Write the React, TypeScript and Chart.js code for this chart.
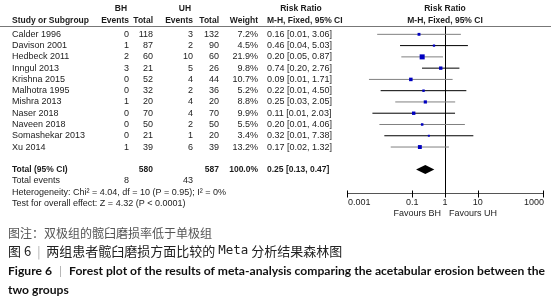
import React, { useEffect, useRef } from "react";
import { Chart, registerables } from "chart.js";

Chart.register(...registerables);

// ---------- data ----------
const studies = [
  "Calder 1996",
  "Davison 2001",
  "Hedbeck 2011",
  "Inngul 2013",
  "Krishna 2015",
  "Malhotra 1995",
  "Mishra 2013",
  "Naser 2018",
  "Naveen 2018",
  "Somashekar 2013",
  "Xu 2014",
];
const bhEvents = [0, 1, 2, 3, 0, 0, 1, 0, 0, 0, 1];
const bhTotal = [118, 87, 60, 21, 52, 32, 20, 70, 50, 21, 39];
const uhEvents = [3, 2, 10, 5, 4, 2, 4, 4, 2, 1, 6];
const uhTotal = [132, 90, 60, 26, 44, 36, 20, 70, 50, 20, 39];
const weights = [7.2, 4.5, 21.9, 9.8, 10.7, 5.2, 8.8, 9.9, 5.5, 3.4, 13.2];
const riskRatio = [0.16, 0.46, 0.2, 0.74, 0.09, 0.22, 0.25, 0.11, 0.2, 0.32, 0.17];
// lower CI bounds as drawn (unrounded estimates)
const ciLow = [0.0084, 0.042, 0.046, 0.198, 0.0047, 0.0107, 0.03, 0.006, 0.0098, 0.0139, 0.0218];
const ciHigh = [3.06, 5.03, 0.87, 2.76, 1.71, 4.5, 2.05, 2.03, 4.06, 7.38, 1.32];
const ciText = [
  "0.16 [0.01, 3.06]",
  "0.46 [0.04, 5.03]",
  "0.20 [0.05, 0.87]",
  "0.74 [0.20, 2.76]",
  "0.09 [0.01, 1.71]",
  "0.22 [0.01, 4.50]",
  "0.25 [0.03, 2.05]",
  "0.11 [0.01, 2.03]",
  "0.20 [0.01, 4.06]",
  "0.32 [0.01, 7.38]",
  "0.17 [0.02, 1.32]",
];
const totalRR = 0.25;
const totalLow = 0.13;
const totalHigh = 0.47;
const totalBH = 580;
const totalUH = 587;
const totalEventsBH = 8;
const totalEventsUH = 43;
const xTicks = [0.001, 0.1, 1, 10, 1000];
const xTickLabels = ["0.001", "0.1", "1", "10", "1000"];
const heterogeneityText = "Heterogeneity: Chi\u00b2 = 4.04, df = 10 (P = 0.95); I\u00b2 = 0%";
const overallText = "Test for overall effect: Z = 4.32 (P < 0.0001)";
const captionNote = "图注：双极组的髋臼磨损率低于单极组";
const captionCnA = "图 6";
const captionCnB = "两组患者髋臼磨损方面比较的 ";
const captionCnMeta = "Meta";
const captionCnC = " 分析结果森林图";
const captionEnA = "Figure 6";
const captionEnB = "Forest plot of the results of meta-analysis comparing the acetabular erosion between the";
const captionEnC = "two groups";

const TOTAL_ROW = 12;
const EVENTS_ROW = 13;
const HET_ROW = 14;
const TEST_ROW = 15;

const W = 551;
const H = 305;

const TF = "'Liberation Sans', Arial, sans-serif";
const TEXT_COLOR = "#1c1c1c";

const forestPlugin = {
  id: "forestPlugin",
  beforeDraw(chart: any) {
    const ctx = chart.ctx;
    ctx.save();
    ctx.fillStyle = "#ffffff";
    ctx.fillRect(0, 0, chart.width, chart.height);
    ctx.restore();
  },
  beforeDatasetsDraw(chart: any) {
    const { ctx, chartArea } = chart;
    const x = chart.scales.x;
    ctx.save();
    ctx.lineWidth = 1;
    // header rule
    ctx.strokeStyle = "#777777";
    ctx.beginPath();
    ctx.moveTo(0, Math.round(chartArea.top) + 0.5);
    ctx.lineTo(W, Math.round(chartArea.top) + 0.5);
    ctx.stroke();
    // line of no effect
    const x1 = Math.round(x.getPixelForValue(1)) + 0.5;
    ctx.strokeStyle = "#000000";
    ctx.beginPath();
    ctx.moveTo(x1, chartArea.top);
    ctx.lineTo(x1, chartArea.bottom);
    ctx.stroke();
    ctx.restore();
  },
  afterDatasetsDraw(chart: any) {
    const { ctx, chartArea } = chart;
    const x = chart.scales.x;
    const y = chart.scales.y;
    ctx.save();

    // pooled diamond
    const yd = y.getPixelForValue(TOTAL_ROW);
    const hd = 4.5;
    ctx.fillStyle = "#000000";
    ctx.beginPath();
    ctx.moveTo(x.getPixelForValue(totalLow), yd);
    ctx.lineTo(x.getPixelForValue(totalRR), yd - hd);
    ctx.lineTo(x.getPixelForValue(totalHigh), yd);
    ctx.lineTo(x.getPixelForValue(totalRR), yd + hd);
    ctx.closePath();
    ctx.fill();

    // axis
    const yb = Math.round(chartArea.bottom) + 0.5;
    ctx.strokeStyle = "#555555";
    ctx.lineWidth = 1;
    ctx.beginPath();
    ctx.moveTo(x.getPixelForValue(xTicks[0]), yb);
    ctx.lineTo(x.getPixelForValue(xTicks[xTicks.length - 1]), yb);
    ctx.stroke();
    ctx.strokeStyle = "#000000";
    xTicks.forEach((t) => {
      const px = Math.round(x.getPixelForValue(t)) + 0.5;
      ctx.beginPath();
      ctx.moveTo(px, yb - 3);
      ctx.lineTo(px, yb + 4);
      ctx.stroke();
    });

    ctx.textBaseline = "middle";
    const txt = (
      s: string,
      px: number,
      py: number,
      align: CanvasTextAlign,
      bold = false,
      color = TEXT_COLOR
    ) => {
      ctx.font = bold ? `bold 8.5px ${TF}` : `9px ${TF}`;
      ctx.textAlign = align;
      ctx.fillStyle = color;
      ctx.fillText(s, px, py);
    };

    xTicks.forEach((t, i) => {
      const align: CanvasTextAlign = i === 0 ? "left" : i === xTicks.length - 1 ? "right" : "center";
      const off = i === 0 ? 1 : i === xTicks.length - 1 ? 1 : 0;
      txt(xTickLabels[i], x.getPixelForValue(t) + off, chartArea.bottom + 9.5, align);
    });
    const xc = x.getPixelForValue(1);
    txt("Favours BH", xc - 4, chartArea.bottom + 20.5, "right");
    txt("Favours UH", xc + 4, chartArea.bottom + 20.5, "left");

    // table columns
    const cName = 12;
    const cBhE = 129;
    const cBhT = 153;
    const cUhE = 193;
    const cUhT = 219;
    const cW = 258;
    const cRR = 267;
    const cPlot = (chartArea.left + chartArea.right) / 2;

    const h1 = y.getPixelForValue(-2.3);
    const h2 = y.getPixelForValue(-1.25);
    txt("BH", 121, h1, "center", true);
    txt("UH", 185, h1, "center", true);
    txt("Risk Ratio", 301, h1, "center", true);
    txt("Risk Ratio", cPlot, h1, "center", true);
    txt("Study or Subgroup", cName, h2, "left", true);
    txt("Events", cBhE, h2, "right", true);
    txt("Total", cBhT, h2, "right", true);
    txt("Events", cUhE, h2, "right", true);
    txt("Total", cUhT, h2, "right", true);
    txt("Weight", cW, h2, "right", true);
    txt("M-H, Fixed, 95% CI", cRR, h2, "left", true);
    txt("M-H, Fixed, 95% CI", cPlot, h2, "center", true);

    studies.forEach((s, i) => {
      const py = y.getPixelForValue(i);
      txt(s, cName, py, "left");
      txt(String(bhEvents[i]), cBhE, py, "right");
      txt(String(bhTotal[i]), cBhT, py, "right");
      txt(String(uhEvents[i]), cUhE, py, "right");
      txt(String(uhTotal[i]), cUhT, py, "right");
      txt(weights[i].toFixed(1) + "%", cW, py, "right");
      txt(ciText[i], cRR, py, "left");
    });

    const pt = y.getPixelForValue(TOTAL_ROW);
    txt("Total (95% CI)", cName, pt, "left", true);
    txt(String(totalBH), cBhT, pt, "right", true);
    txt(String(totalUH), cUhT, pt, "right", true);
    txt("100.0%", cW, pt, "right", true);
    txt(`${totalRR.toFixed(2)} [${totalLow.toFixed(2)}, ${totalHigh.toFixed(2)}]`, cRR, pt, "left", true);
    const pe = y.getPixelForValue(EVENTS_ROW);
    txt("Total events", cName, pe, "left");
    txt(String(totalEventsBH), cBhE, pe, "right");
    txt(String(totalEventsUH), cUhE, pe, "right");
    txt(heterogeneityText, cName, y.getPixelForValue(HET_ROW), "left");
    txt(overallText, cName, y.getPixelForValue(TEST_ROW), "left");

    // captions
    const cjk = "'Noto Sans CJK SC', sans-serif";
    ctx.textAlign = "left";
    ctx.font = `12px ${cjk}`;
    ctx.fillStyle = "#555555";
    ctx.fillText(captionNote, 8, 233);

    let cx = 8;
    const seg = (s: string, f: string, color: string, py: number, gap = 0) => {
      ctx.font = f;
      ctx.fillStyle = color;
      ctx.fillText(s, cx, py);
      cx += ctx.measureText(s).width + gap;
    };
    const cn = `13px ${cjk}`;
    seg(captionCnA, cn, "#222222", 251, 6);
    seg("|", `12px ${cjk}`, "#aaaaaa", 251, 6);
    seg(captionCnB, cn, "#222222", 251);
    seg(captionCnMeta, `12.5px 'DejaVu Sans Mono', monospace`, "#222222", 251);
    seg(captionCnC, cn, "#222222", 251);

    // english caption, fitted to the reference line width
    const enFont = `bold 12px Lato, sans-serif`;
    const barFont = `12px Lato, sans-serif`;
    const gap = 7;
    ctx.font = enFont;
    const wA = ctx.measureText(captionEnA).width;
    const wB = ctx.measureText(captionEnB).width;
    ctx.font = barFont;
    const wBar = ctx.measureText("|").width;
    const sx = 537 / (wA + wB + wBar + 2 * gap);
    ctx.save();
    ctx.translate(8, 0);
    ctx.scale(sx, 1);
    cx = 0;
    seg(captionEnA, enFont, "#111111", 271, gap);
    seg("|", barFont, "#aaaaaa", 271, gap);
    seg(captionEnB, enFont, "#111111", 271);
    cx = 0;
    seg(captionEnC, enFont, "#111111", 290);
    ctx.restore();

    ctx.restore();
  },
};

export default function App() {
  const ref = useRef<HTMLCanvasElement | null>(null);
  useEffect(() => {
    document.body.style.margin = "0";
    const canvas = ref.current;
    if (!canvas) return;
    const ciSets = studies.map((_, i) => ({
      type: "scatter" as const,
      showLine: true,
      data: [
        { x: ciLow[i], y: i },
        { x: ciHigh[i], y: i },
      ],
      borderColor: i % 2 === 0 ? "#808080" : "#000000",
      borderWidth: 1,
      pointRadius: 0,
      order: 2,
    }));
    const chart = new Chart(canvas, {
      type: "scatter",
      data: {
        datasets: [
          ...ciSets,
          {
            type: "scatter" as const,
            data: riskRatio.map((v, i) => ({ x: v, y: i })),
            pointStyle: "rect",
            pointRadius: riskRatio.map((_, i) => 0.76 * Math.sqrt(weights[i])),
            backgroundColor: "#0000c0",
            borderWidth: 0,
            order: 1,
          },
        ],
      },
      options: {
        animation: false,
        responsive: false,
        devicePixelRatio: 1,
        layout: { padding: { left: 347, right: 8, top: 26, bottom: 112 } },
        plugins: { legend: { display: false }, tooltip: { enabled: false } },
        events: [],
        scales: {
          x: { type: "logarithmic", min: 0.001, max: 1000, display: false },
          y: { type: "linear", min: -0.74, max: 14.08, reverse: true, display: false },
        },
      },
      plugins: [forestPlugin],
    });
    return () => chart.destroy();
  }, []);
  return (
    <div style={{ position: "absolute", left: 0, top: 0, width: W, height: H }}>
      <canvas ref={ref} width={W} height={H} style={{ width: W, height: H, display: "block" }} />
    </div>
  );
}
